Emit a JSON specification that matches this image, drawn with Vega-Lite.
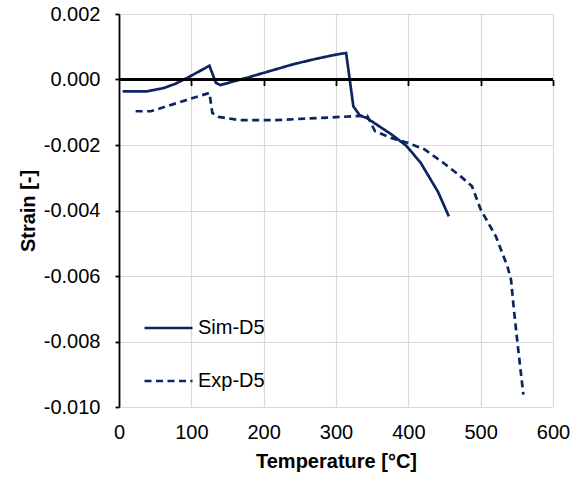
{
  "$schema": "https://vega.github.io/schema/vega-lite/v6.json",
  "width": 434,
  "height": 393,
  "autosize": {"type": "none"},
  "padding": {"left": 119, "top": 14, "right": 30, "bottom": 72},
  "config": {
    "font": "Liberation Sans",
    "view": {"stroke": null},
    "axis": {"labelFont": "Liberation Sans", "titleFont": "Liberation Sans", "labelColor": "#000", "titleColor": "#000", "gridColor": "#d9d9d9", "gridWidth": 1.2}
  },
  "data": {"values": [
    {"s": "Sim-D5", "t": 5, "e": -0.00036},
    {"s": "Sim-D5", "t": 39, "e": -0.00036},
    {"s": "Sim-D5", "t": 62, "e": -0.00026},
    {"s": "Sim-D5", "t": 78, "e": -0.00013},
    {"s": "Sim-D5", "t": 97, "e": 0.00008},
    {"s": "Sim-D5", "t": 125, "e": 0.00042},
    {"s": "Sim-D5", "t": 134, "e": -0.0001},
    {"s": "Sim-D5", "t": 140, "e": -0.00017},
    {"s": "Sim-D5", "t": 170, "e": 0.00001},
    {"s": "Sim-D5", "t": 198, "e": 0.00019},
    {"s": "Sim-D5", "t": 240, "e": 0.00046},
    {"s": "Sim-D5", "t": 272, "e": 0.00063},
    {"s": "Sim-D5", "t": 300, "e": 0.00076},
    {"s": "Sim-D5", "t": 314, "e": 0.00081},
    {"s": "Sim-D5", "t": 324, "e": -0.00082},
    {"s": "Sim-D5", "t": 333, "e": -0.0011},
    {"s": "Sim-D5", "t": 342, "e": -0.00117},
    {"s": "Sim-D5", "t": 377, "e": -0.00168},
    {"s": "Sim-D5", "t": 397, "e": -0.00202},
    {"s": "Sim-D5", "t": 417, "e": -0.00254},
    {"s": "Sim-D5", "t": 441, "e": -0.00343},
    {"s": "Sim-D5", "t": 456, "e": -0.00418},
    {"s": "Exp-D5", "t": 23, "e": -0.00097},
    {"s": "Exp-D5", "t": 44, "e": -0.00097},
    {"s": "Exp-D5", "t": 67, "e": -0.00081},
    {"s": "Exp-D5", "t": 97, "e": -0.0006},
    {"s": "Exp-D5", "t": 125, "e": -0.00041},
    {"s": "Exp-D5", "t": 129, "e": -0.00102},
    {"s": "Exp-D5", "t": 138, "e": -0.00114},
    {"s": "Exp-D5", "t": 166, "e": -0.00124},
    {"s": "Exp-D5", "t": 217, "e": -0.00124},
    {"s": "Exp-D5", "t": 263, "e": -0.00119},
    {"s": "Exp-D5", "t": 327, "e": -0.00112},
    {"s": "Exp-D5", "t": 343, "e": -0.0011},
    {"s": "Exp-D5", "t": 354, "e": -0.00158},
    {"s": "Exp-D5", "t": 377, "e": -0.00179},
    {"s": "Exp-D5", "t": 400, "e": -0.00194},
    {"s": "Exp-D5", "t": 422, "e": -0.00213},
    {"s": "Exp-D5", "t": 447, "e": -0.00252},
    {"s": "Exp-D5", "t": 472, "e": -0.00295},
    {"s": "Exp-D5", "t": 488, "e": -0.00326},
    {"s": "Exp-D5", "t": 500, "e": -0.00397},
    {"s": "Exp-D5", "t": 521, "e": -0.00479},
    {"s": "Exp-D5", "t": 537, "e": -0.00571},
    {"s": "Exp-D5", "t": 542, "e": -0.00612},
    {"s": "Exp-D5", "t": 546, "e": -0.00704},
    {"s": "Exp-D5", "t": 551, "e": -0.00806},
    {"s": "Exp-D5", "t": 559, "e": -0.00962}
  ]},
  "resolve": {"axis": {"x": "independent"}},
  "layer": [
    {
      "mark": {"type": "line", "strokeWidth": 2.7, "clip": true},
      "encoding": {
        "x": {"field": "t", "type": "quantitative", "scale": {"domain": [0, 600], "nice": false},
          "axis": {"values": [0, 100, 200, 300, 400, 500, 600], "labelFlush": false, "title": "Temperature [°C]", "titleFontSize": 20, "titleFontWeight": "bold", "titlePadding": 9, "labelFontSize": 20, "labelPadding": 15, "ticks": false, "domain": false, "grid": true}},
        "y": {"field": "e", "type": "quantitative", "scale": {"domain": [-0.01, 0.002], "nice": false, "zero": false},
          "axis": {"values": [-0.01, -0.008, -0.006, -0.004, -0.002, 0, 0.002], "labelExpr": "replace(format(datum.value, '.3f'), '\u2212', '-')", "title": "Strain [-]", "titleFontSize": 20, "titleFontWeight": "bold", "titlePadding": 5, "labelFontSize": 20, "labelPadding": 15, "labelFlush": false, "tickSize": 4, "tickColor": "#000", "domainColor": "#000", "domainWidth": 1.8, "tickWidth": 1.8, "grid": true}},
        "color": {"field": "s", "type": "nominal", "scale": {"domain": ["Sim-D5", "Exp-D5"], "range": ["#0c2461", "#0c2461"]},
          "legend": {"orient": "none", "legendX": 24, "legendY": 304, "title": null, "symbolType": "stroke", "symbolSize": 2304, "symbolStrokeWidth": 2.7, "labelFontSize": 20, "labelColor": "#000", "labelOffset": 4, "clipHeight": 20, "rowPadding": 33}},
        "strokeDash": {"field": "s", "type": "nominal", "scale": {"domain": ["Sim-D5", "Exp-D5"], "range": [[1, 0], [7, 4.5]]}, "legend": null}
      }
    },
    {
      "mark": {"type": "rule", "color": "#000", "strokeWidth": 1.8},
      "encoding": {
        "y": {"datum": 0, "type": "quantitative"}
      }
    },
    {
      "data": {"values": [{"t": 0}]},
      "mark": {"type": "point", "opacity": 0},
      "encoding": {
        "x": {"field": "t", "type": "quantitative", "scale": {"domain": [0, 600], "nice": false},
          "axis": {"orient": "bottom", "offset": -327.5, "values": [100, 200, 300, 400, 500, 600], "labels": false, "title": null, "grid": false, "domain": false, "ticks": true, "tickColor": "#000", "tickSize": 6, "tickWidth": 1.8}},
        "y": {"datum": 0, "type": "quantitative"}
      }
    }
  ]
}
